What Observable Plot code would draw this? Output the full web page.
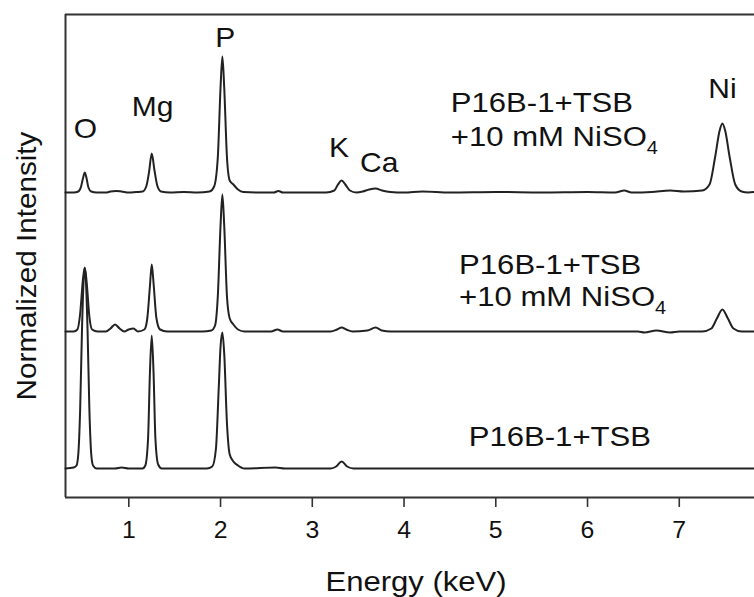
<!DOCTYPE html>
<html><head><meta charset="utf-8">
<script src="https://cdn.jsdelivr.net/npm/d3@7"></script>
<script src="https://cdn.jsdelivr.net/npm/@observablehq/plot@0.6"></script>
<style>body{margin:0;background:#fff}</style>
</head><body><div id="chart"></div>
<script>
// ---- data (energy keV, normalized intensity above each trace's own baseline) ----
const energyTicks = [1, 2, 3, 4, 5, 6, 7];
const energyDomain = [0.31, 7.82];
const intensityDomain = [0, 4.83];

const sampleNames = ["NiSO4 (upper)", "NiSO4 (middle)", "TSB"];
const sampleBaselines = [3.05, 1.66, 0.29];

const upperSpectrum = [
  [0.31,0.00],[0.40,0.00],[0.45,0.01],[0.48,0.06],[0.50,0.14],[0.52,0.20],[0.54,0.14],[0.56,0.05],[0.59,0.01],
  [0.65,0.00],[0.75,0.00],[0.80,0.01],[0.86,0.015],[0.92,0.01],[1.00,0.00],[1.08,0.005],[1.15,0.01],
  [1.19,0.06],[1.22,0.20],[1.25,0.39],[1.28,0.22],[1.31,0.07],[1.35,0.01],[1.45,0.00],[1.60,0.005],[1.75,0.00],
  [1.88,0.01],[1.93,0.06],[1.97,0.35],[2.00,1.05],[2.02,1.36],[2.04,1.05],[2.07,0.35],[2.10,0.12],[2.14,0.08],
  [2.19,0.03],[2.25,0.005],[2.40,0.00],[2.58,0.00],[2.63,0.015],[2.68,0.00],[2.90,0.00],[3.15,0.00],
  [3.24,0.02],[3.28,0.08],[3.32,0.12],[3.36,0.08],[3.41,0.02],[3.48,0.00],[3.55,0.01],[3.62,0.03],[3.69,0.04],
  [3.76,0.02],[3.85,0.005],[4.00,0.00],[4.20,0.01],[4.50,0.00],[5.00,0.005],[5.50,0.00],[6.00,0.005],
  [6.30,0.00],[6.40,0.02],[6.48,0.00],[6.70,0.005],[6.90,0.02],[7.05,0.01],[7.25,0.02],[7.33,0.08],
  [7.39,0.35],[7.44,0.62],[7.47,0.69],[7.50,0.62],[7.55,0.35],[7.61,0.08],[7.68,0.01],[7.75,0.00],[7.82,0.005]
];
const middleSpectrum = [
  [0.31,0.00],[0.40,0.00],[0.44,0.02],[0.47,0.18],[0.50,0.52],[0.52,0.64],[0.54,0.50],[0.57,0.15],[0.60,0.02],
  [0.66,0.00],[0.75,0.00],[0.80,0.03],[0.85,0.07],[0.90,0.03],[0.95,0.00],[1.00,0.02],[1.05,0.03],[1.10,0.00],
  [1.17,0.02],[1.20,0.12],[1.23,0.45],[1.25,0.67],[1.27,0.48],[1.30,0.14],[1.34,0.02],[1.42,0.00],[1.80,0.00],
  [1.90,0.01],[1.94,0.06],[1.97,0.35],[2.00,1.06],[2.02,1.37],[2.04,1.06],[2.07,0.35],[2.10,0.13],[2.14,0.07],
  [2.19,0.02],[2.26,0.00],[2.55,0.00],[2.62,0.02],[2.68,0.00],[3.20,0.00],[3.27,0.02],[3.32,0.04],[3.37,0.02],
  [3.44,0.00],[3.60,0.01],[3.69,0.04],[3.76,0.01],[3.85,0.00],[4.00,0.00],[4.50,0.00],[5.00,0.00],[5.80,0.00],
  [6.40,0.00],[6.55,0.00],[6.62,-0.01],[6.75,0.01],[6.90,-0.01],[7.00,0.00],[7.25,0.00],[7.35,0.03],
  [7.41,0.13],[7.47,0.22],[7.53,0.13],[7.59,0.03],[7.68,0.00],[7.82,0.00]
];
const tsbSpectrum = [
  [0.31,0.00],[0.40,0.01],[0.43,0.03],[0.45,0.15],[0.47,0.60],[0.49,1.40],[0.51,1.92],[0.52,2.00],[0.53,1.92],
  [0.55,1.40],[0.57,0.60],[0.59,0.15],[0.61,0.03],[0.65,0.00],[0.85,0.00],[0.92,0.01],[1.00,0.00],[1.15,0.00],
  [1.18,0.03],[1.21,0.30],[1.23,0.95],[1.25,1.33],[1.27,0.95],[1.29,0.30],[1.32,0.04],[1.36,0.00],[1.85,0.00],
  [1.91,0.02],[1.95,0.20],[1.98,0.80],[2.00,1.22],[2.02,1.36],[2.04,1.15],[2.07,0.45],[2.10,0.14],[2.14,0.07],
  [2.19,0.03],[2.26,0.00],[2.60,0.01],[2.70,0.00],[3.20,0.00],[3.26,0.02],[3.32,0.07],[3.38,0.02],[3.45,0.00],
  [3.60,0.00],[4.50,0.00],[5.50,0.00],[6.50,0.00],[7.20,0.00],[7.82,0.00]
];

const peakLabels = ["O", "Mg", "P", "K", "Ca", "Ni"];
const peakLabelEnergy = [0.527, 1.26, 2.05, 3.29, 3.73, 7.47];
const peakLabelIntensity = [3.68, 3.90, 4.59, 3.49, 3.34, 4.08];

const sampleLabelText = ["P16B-1+TSB", "+10 mM NiSO_4", "P16B-1+TSB", "+10 mM NiSO_4", "P16B-1+TSB"];
const sampleLabelEnergy = [4.51, 4.51, 4.60, 4.60, 4.705];
const sampleLabelIntensity = [3.94, 3.60, 2.32, 2.00, 0.60];

// ---- tables ----
const spectra = [upperSpectrum, middleSpectrum, tsbSpectrum];
const rows = spectra.flatMap((s, k) => s.map(([e, v]) => ({energy: e, intensity: v + sampleBaselines[k], sample: sampleNames[k]})));
const peaks = peakLabels.map((t, i) => ({t, e: peakLabelEnergy[i], v: peakLabelIntensity[i]}));
const sampleLabels = sampleLabelText.map((t, i) => ({t, e: sampleLabelEnergy[i], v: sampleLabelIntensity[i]}));

const font = "'Liberation Sans', Arial, Helvetica, sans-serif";
const ink = "#222";

const plot = Plot.plot({
  width: 754, height: 597,
  marginLeft: 65, marginRight: 0, marginTop: 14, marginBottom: 100,
  style: {background: "#fff", fontFamily: font, color: ink},
  x: {domain: energyDomain},
  y: {domain: intensityDomain, axis: null},
  marks: [
    Plot.ruleY([intensityDomain[1]], {stroke: "#333", strokeWidth: 2}),
    Plot.ruleY([intensityDomain[0]], {stroke: "#333", strokeWidth: 2}),
    Plot.ruleX([energyDomain[0]], {stroke: "#333", strokeWidth: 2}),
    Plot.axisX({ticks: energyTicks, tickSize: 10, tickPadding: 14, fontSize: 23, label: null, stroke: "#333", strokeWidth: 1.6, fill: "#111"}),
    Plot.lineY(rows, {x: "energy", y: "intensity", z: "sample", stroke: ink, strokeWidth: 2, curve: "monotone-x"}),
    Plot.text(peaks, {x: "e", y: "v", text: "t", fontSize: 27, fill: "#111"}),
    Plot.text(sampleLabels, {x: "e", y: "v", text: "t", fontSize: 28, fill: "#111", textAnchor: "start"}),
    Plot.text(["Energy (keV)"], {text: d => d, frameAnchor: "bottom", dy: 85, dx: 6, fontSize: 27, fill: "#111", textAnchor: "middle", lineAnchor: "middle"}),
    Plot.text(["Normalized Intensity"], {text: d => d, frameAnchor: "left", dx: -38, dy: 10, rotate: -90, fontSize: 28, fill: "#111", textAnchor: "middle", lineAnchor: "middle"})
  ]
});

function stretchText(t, s) {
  const tr = t.getAttribute("transform") || "";
  t.setAttribute("transform", tr + ` scale(${s},1)`);
}
function stretchGroup(g, s) {
  if (!g) return;
  g.querySelectorAll("text").forEach(t => stretchText(t, s));
}
const textGroups = plot.querySelectorAll('g[aria-label="text"]');
const [peakGroup, sampleGroup, xLabelGroup, yLabelGroup] = textGroups;
const mine = new Set([peakGroup, sampleGroup, xLabelGroup, yLabelGroup]);

// tick labels: widen slightly like the reference
plot.querySelectorAll("text").forEach(t => {
  if (!mine.has(t.parentNode) && /^\d$/.test(t.textContent.trim())) stretchText(t, 1.08);
});
stretchGroup(peakGroup, 1.11);
stretchGroup(sampleGroup, 1.11);
stretchGroup(xLabelGroup, 1.15);
stretchGroup(yLabelGroup, 1.06);

// subscript for NiSO4
if (sampleGroup) sampleGroup.querySelectorAll("text").forEach(t => {
  if (t.textContent.includes("_")) {
    const [main, sub] = t.textContent.split("_");
    t.textContent = main;
    const ts = document.createElementNS("http://www.w3.org/2000/svg", "tspan");
    ts.setAttribute("dy", "8");
    ts.setAttribute("font-size", "18");
    ts.textContent = sub;
    t.appendChild(ts);
  }
});

document.getElementById("chart").appendChild(plot);
</script>
</body></html>
